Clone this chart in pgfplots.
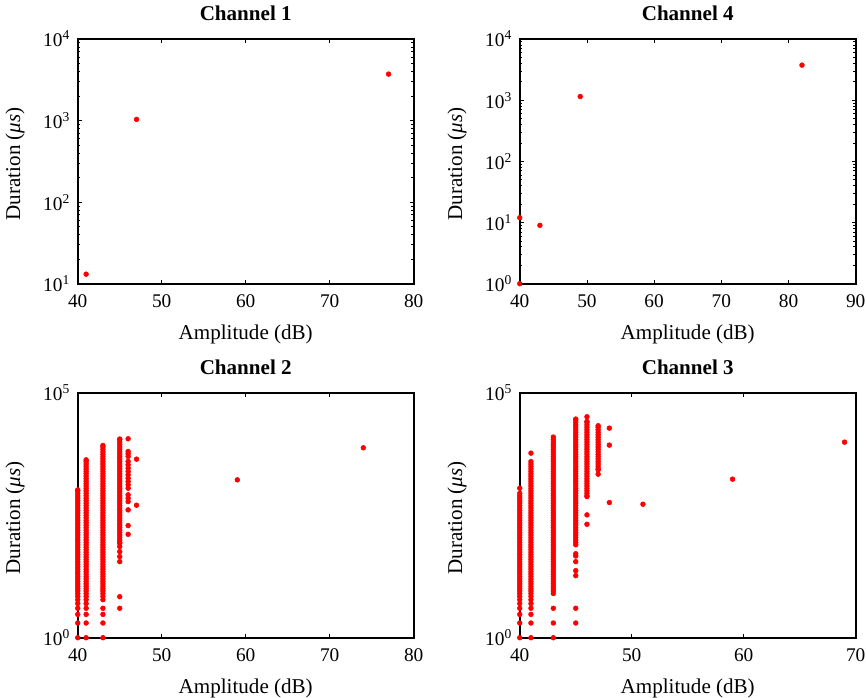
\documentclass[border=0pt]{standalone}
\usepackage{pgfplots}
\pgfplotsset{compat=1.18}
\usepackage{fontspec}
\setmainfont{Liberation Serif}
\newcommand\fs{\fontsize{15.8}{19}\selectfont}
\newcommand\ts{\fontsize{14.5}{17}\selectfont}
\pgfplotsset{log number format basis/.code 2 args={#1\textsuperscript{\pgfmathprintnumber[assume math mode=true]{#2}}}}
\pgfplotsset{
    scale only axis, width=252pt, height=183.5pt,
    axis line style={line width=1.2pt},
    every tick/.append style={black, line width=0.6pt},
    major tick length=3pt, minor tick length=1.8pt,
    tick align=inside,
    xlabel={Amplitude (dB)}, ylabel={Duration (\textit{μs})},
    every axis title/.style={at={(axis description cs:0.5,1)}, anchor=base, yshift=13.7pt, font=\fs\bfseries},
    every axis x label/.style={at={(axis description cs:0.5,0)}, anchor=base, yshift=-42pt, font=\fs},
    every axis y label/.style={at={(axis description cs:-0.1865,0.49)}, anchor=center, rotate=90, font=\fs},
    tick label style={font=\ts},
    xticklabel style={/pgf/number format/assume math mode=true, anchor=base, yshift=-18pt},
    yticklabel style={xshift=-2.3pt},
}
\begin{document}
\begin{tikzpicture}[font=\fs]
% Channel 1
\begin{axis}[ymode=log, anchor=south west, at={(58.3pt,310.7pt)}, title={Channel 1},
  xmin=40, xmax=80, xtick={40,50,60,70,80}, ymin=10, ymax=10000]
\addplot[only marks, mark=*, mark size=1.8pt, red] coordinates {(41,13.1)(47,1035)(77,3720)};
\end{axis}
% Channel 4
\begin{axis}[ymode=log, anchor=south west, at={(389.8pt,310.7pt)}, title={Channel 4},
  xmin=40, xmax=90, xtick={40,50,60,70,80,90}, ymin=1, ymax=10000]
\addplot[only marks, mark=*, mark size=1.8pt, red] coordinates {(40,1)(40,12)(43,9)(49,1150)(82,3750)};
\end{axis}
% Channel 2
\begin{axis}[ymode=log, anchor=south west, at={(58.3pt,45.2pt)}, title={Channel 2},
  xmin=40, xmax=80, xtick={40,50,60,70,80}, ymin=1, ymax=100000, ytick={1,100000}]
\addplot[only marks, mark=*, mark size=1.8pt, red] coordinates {
(40,1)(40,2)(40,3)(40,4)(40,5)(40,6)(40,7)(40,8)(40,9)(40,10)(40,11.2)(40,12.6)(40,14.1)(40,15.8)(40,17.8)(40,20)(40,22.4)(40,25.1)(40,28.2)(40,31.6)(40,35.5)(40,39.8)(40,44.7)(40,50.1)(40,56.2)(40,63.1)(40,70.8)(40,79.4)(40,89.1)(40,100)(40,112)(40,126)(40,141)(40,158)(40,178)(40,200)(40,224)(40,251)(40,282)(40,316)(40,355)(40,398)(40,447)(40,501)(40,562)(40,631)(40,708)(40,794)(40,891)(40,1000)(40,1050)
};
\addplot[only marks, mark=*, mark size=1.8pt, red] coordinates {
(41,1)(41,2)(41,3)(41,4)(41,5)(41,6)(41,7)(41,8)(41,9)(41,10)(41,11.2)(41,12.6)(41,14.1)(41,15.8)(41,17.8)(41,20)(41,22.4)(41,25.1)(41,28.2)(41,31.6)(41,35.5)(41,39.8)(41,44.7)(41,50.1)(41,56.2)(41,63.1)(41,70.8)(41,79.4)(41,89.1)(41,100)(41,112)(41,126)(41,141)(41,158)(41,178)(41,200)(41,224)(41,251)(41,282)(41,316)(41,355)(41,398)(41,447)(41,501)(41,562)(41,631)(41,708)(41,794)(41,891)(41,1000)(41,1120)(41,1260)(41,1410)(41,1580)(41,1780)(41,2000)(41,2240)(41,2510)(41,2820)(41,3160)(41,3550)(41,3980)(41,4320)
};
\addplot[only marks, mark=*, mark size=1.8pt, red] coordinates {
(43,1)(43,2)(43,3)(43,4)(43,6)(43,7)(43,8)(43,9)(43,10)(43,11.2)(43,12.6)(43,14.1)(43,15.8)(43,17.8)(43,20)(43,22.4)(43,25.1)(43,28.2)(43,31.6)(43,35.5)(43,39.8)(43,44.7)(43,50.1)(43,56.2)(43,63.1)(43,70.8)(43,79.4)(43,89.1)(43,100)(43,112)(43,126)(43,141)(43,158)(43,178)(43,200)(43,224)(43,251)(43,282)(43,316)(43,355)(43,398)(43,447)(43,501)(43,562)(43,631)(43,708)(43,794)(43,891)(43,1000)(43,1120)(43,1260)(43,1410)(43,1580)(43,1780)(43,2000)(43,2240)(43,2510)(43,2820)(43,3160)(43,3550)(43,3980)(43,4470)(43,5010)(43,5620)(43,6310)(43,7080)(43,7940)(43,8500)
};
\addplot[only marks, mark=*, mark size=1.8pt, red] coordinates {
(45,4)(45,6.9)(45,35.9)(45,45.5)(45,57.5)(45,72.8)(45,85)(45,89.1)(45,100)(45,112)(45,126)(45,141)(45,158)(45,178)(45,200)(45,224)(45,251)(45,282)(45,316)(45,355)(45,398)(45,447)(45,501)(45,562)(45,631)(45,708)(45,794)(45,891)(45,1000)(45,1120)(45,1260)(45,1410)(45,1580)(45,1780)(45,2000)(45,2240)(45,2510)(45,2820)(45,3160)(45,3550)(45,3980)(45,4470)(45,5010)(45,5620)(45,6310)(45,7080)(45,7940)(45,8910)(45,10000)(45,11200)(45,11500)
};
\addplot[only marks, mark=*, mark size=1.8pt, red] coordinates {
(46,130)(46,196)(46,410)(46,607)(46,710)(46,832)(46,1138)(46,1331)(46,1557)(46,1823)(46,2133)(46,2495)(46,2920)(46,3415)(46,4000)(46,5060)(46,5740)(46,6400)(46,11640)
(47,511)(47,4460)(59,1684)(74,7610)
};
\end{axis}
% Channel 3
\begin{axis}[ymode=log, anchor=south west, at={(389.8pt,45.2pt)}, title={Channel 3},
  xmin=40, xmax=70, xtick={40,50,60,70}, ymin=1, ymax=100000, ytick={1,100000}]
\addplot[only marks, mark=*, mark size=1.8pt, red] coordinates {
(40,1)(40,2)(40,3)(40,4)(40,5)(40,6)(40,7)(40,8)(40,9)(40,10)(40,11.2)(40,12.6)(40,14.1)(40,15.8)(40,17.8)(40,20)(40,22.4)(40,25.1)(40,28.2)(40,31.6)(40,35.5)(40,39.8)(40,44.7)(40,50.1)(40,56.2)(40,63.1)(40,70.8)(40,79.4)(40,89.1)(40,100)(40,112)(40,126)(40,141)(40,158)(40,178)(40,200)(40,224)(40,251)(40,282)(40,316)(40,355)(40,398)(40,447)(40,501)(40,562)(40,631)(40,708)(40,794)(40,891)(40,1138)
};
\addplot[only marks, mark=*, mark size=1.8pt, red] coordinates {
(41,1)(41,2)(41,3)(41,4)(41,5)(41,6)(41,7)(41,8)(41,9)(41,10)(41,11.2)(41,12.6)(41,14.1)(41,15.8)(41,17.8)(41,20)(41,22.4)(41,25.1)(41,28.2)(41,31.6)(41,35.5)(41,39.8)(41,44.7)(41,50.1)(41,56.2)(41,63.1)(41,70.8)(41,79.4)(41,89.1)(41,100)(41,112)(41,126)(41,141)(41,158)(41,178)(41,200)(41,224)(41,251)(41,282)(41,316)(41,355)(41,398)(41,447)(41,501)(41,562)(41,631)(41,708)(41,794)(41,891)(41,1000)(41,1120)(41,1260)(41,1410)(41,1580)(41,1780)(41,2000)(41,2240)(41,2510)(41,2820)(41,3160)(41,3550)(41,3980)(41,5920)
};
\addplot[only marks, mark=*, mark size=1.8pt, red] coordinates {
(43,1)(43,2)(43,4)(43,8)(43,9)(43,10)(43,11.2)(43,12.6)(43,14.1)(43,15.8)(43,17.8)(43,20)(43,22.4)(43,25.1)(43,28.2)(43,31.6)(43,35.5)(43,39.8)(43,44.7)(43,50.1)(43,56.2)(43,63.1)(43,70.8)(43,79.4)(43,89.1)(43,100)(43,112)(43,126)(43,141)(43,158)(43,178)(43,200)(43,224)(43,251)(43,282)(43,316)(43,355)(43,398)(43,447)(43,501)(43,562)(43,631)(43,708)(43,794)(43,891)(43,1000)(43,1120)(43,1260)(43,1410)(43,1580)(43,1780)(43,2000)(43,2240)(43,2510)(43,2820)(43,3160)(43,3550)(43,3980)(43,4470)(43,5010)(43,5620)(43,6310)(43,7080)(43,7940)(43,8910)(43,10000)(43,11200)(43,12600)
};
\addplot[only marks, mark=*, mark size=1.8pt, red] coordinates {
(45,2)(45,4)(45,18.6)(45,23.5)(45,35.9)(45,46.9)(45,52)(45,79.4)(45,89.1)(45,100)(45,112)(45,126)(45,141)(45,158)(45,178)(45,200)(45,224)(45,251)(45,282)(45,316)(45,355)(45,398)(45,447)(45,501)(45,562)(45,631)(45,708)(45,794)(45,891)(45,1000)(45,1120)(45,1260)(45,1410)(45,1580)(45,1780)(45,2000)(45,2240)(45,2510)(45,2820)(45,3160)(45,3550)(45,3980)(45,4470)(45,5010)(45,5620)(45,6310)(45,7080)(45,7940)(45,8910)(45,10000)(45,11200)(45,12600)(45,14100)(45,15800)(45,17800)(45,20000)(45,22400)(45,25100)(45,28200)(45,29400)
};
\addplot[only marks, mark=*, mark size=1.8pt, red] coordinates {
(46,208)(46,324)(46,768)(46,794)(46,891)(46,1000)(46,1120)(46,1260)(46,1410)(46,1580)(46,1780)(46,2000)(46,2240)(46,2510)(46,2820)(46,3160)(46,3550)(46,3980)(46,4470)(46,5010)(46,5620)(46,6310)(46,7080)(46,7940)(46,8910)(46,10000)(46,11200)(46,12600)(46,14100)(46,15800)(46,17800)(46,20000)(46,22400)(46,25100)(46,26300)(46,32800)
};
\addplot[only marks, mark=*, mark size=1.8pt, red] coordinates {
(47,2200)(47,2700)(47,2820)(47,3160)(47,3550)(47,3980)(47,4470)(47,5010)(47,5620)(47,6310)(47,7080)(47,7940)(47,8910)(47,10000)(47,11200)(47,12600)(47,14100)(47,15800)(47,17800)(47,20000)(47,21500)
(48,579)(48,8630)(48,19200)(51,535)(59,1740)(69,9930)
};
\end{axis}
\pgfresetboundingbox
\useasboundingbox (0,0) rectangle (649.5pt,523.5pt);
\end{tikzpicture}
\end{document}
